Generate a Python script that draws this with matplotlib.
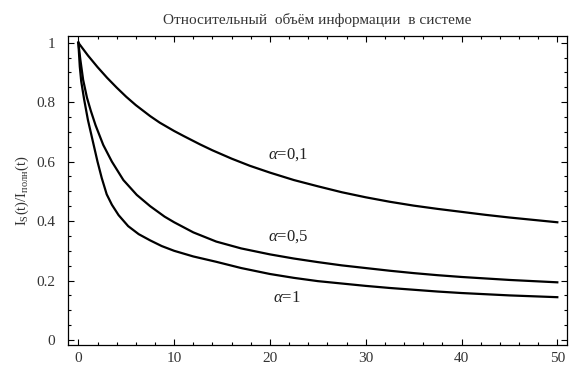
import matplotlib.pyplot as plt
from matplotlib.ticker import MultipleLocator

# ---- данные ----
t_01 = [0, 1, 2, 3, 4, 5, 6, 7.5, 8.5, 10, 11, 12.7, 14, 15, 16, 17.9, 20, 22.5,
        25, 27.5, 30, 32.5, 35, 37.5, 40, 42.5, 45, 47.5, 50]
I_01 = [1.0, 0.957, 0.918, 0.882, 0.849, 0.818, 0.79, 0.753, 0.731, 0.703, 0.686,
        0.658, 0.638, 0.624, 0.610, 0.586, 0.563, 0.538, 0.517, 0.497, 0.480,
        0.465, 0.452, 0.441, 0.431, 0.421, 0.412, 0.404, 0.396]

t_05 = [0, 0.2, 0.5, 0.9, 1.3, 1.8, 2.6, 3.5, 4.7, 6.1, 7.5, 9, 10, 12, 14.4, 17,
        20, 22.5, 25, 27.5, 30, 32.5, 35, 37.5, 40, 42.5, 45, 47.5, 50]
I_05 = [1.0, 0.945, 0.875, 0.815, 0.771, 0.722, 0.656, 0.60, 0.538, 0.488, 0.45,
        0.415, 0.396, 0.362, 0.331, 0.308, 0.288, 0.274, 0.262, 0.251, 0.242,
        0.233, 0.225, 0.218, 0.212, 0.207, 0.202, 0.198, 0.194]

t_1 = [0, 0.15, 0.3, 0.6, 1.0, 1.5, 2.0, 2.44, 2.96, 3.5, 4.2, 5.2, 6.3, 7.5, 8.7,
       10, 12, 14.4, 17, 20, 22.5, 25, 27.5, 30, 32.5, 35, 37.5, 40, 42.5, 45,
       47.5, 50]
I_1 = [1.0, 0.92, 0.87, 0.81, 0.74, 0.67, 0.60, 0.545, 0.49, 0.455, 0.42, 0.383,
       0.356, 0.335, 0.316, 0.30, 0.281, 0.263, 0.242, 0.222, 0.209, 0.198, 0.19,
       0.182, 0.175, 0.169, 0.163, 0.158, 0.154, 0.15, 0.147, 0.144]

labels = ['0,1', '0,5', '1']
label_pos = [(19.8, 0.622), (19.8, 0.346), (20.3, 0.141)]

plt.rcParams['font.family'] = ['Liberation Serif', 'DejaVu Serif']
plt.rcParams['mathtext.fontset'] = 'custom'
plt.rcParams['mathtext.rm'] = 'Liberation Serif'
plt.rcParams['mathtext.it'] = 'Liberation Serif:italic'

fig = plt.figure(figsize=(5.7, 3.77), dpi=100)
ax = fig.add_axes([0.1188, 0.0849, 0.8754, 0.8196])

for t, I in [(t_01, I_01), (t_05, I_05), (t_1, I_1)]:
    ax.plot(t, I, color='black', lw=1.6, solid_joinstyle='round')

for lab, (x, y) in zip(labels, label_pos):
    ax.text(x, y, r'$\mathit{\alpha}$=' + lab, fontsize=12, color='#222222',
            ha='left', va='center')

ax.set_xlim(-1.11, 50.98)
ax.set_ylim(-0.0168, 1.0225)
ax.xaxis.set_major_locator(MultipleLocator(10))
ax.xaxis.set_minor_locator(MultipleLocator(2))
ax.yaxis.set_major_locator(MultipleLocator(0.2))
ax.yaxis.set_minor_locator(MultipleLocator(0.05))
ax.set_yticks([0, 0.2, 0.4, 0.6, 0.8, 1.0])
ax.set_yticklabels(['0', '0.2', '0.4', '0.6', '0.8', '1'])

ax.tick_params(which='both', direction='in', top=True, right=True, width=0.8,
               labelsize=11, colors='black', labelcolor='#333333')
ax.tick_params(which='major', length=4)
ax.tick_params(which='minor', length=2)
ax.tick_params(axis='y', pad=9)
ax.tick_params(axis='x', pad=5)
for s in ax.spines.values():
    s.set_linewidth(0.9)

ax.set_title('Относительный  объём информации  в системе', fontsize=11,
             color='#333333', pad=9)
ax.set_ylabel(r'I$_\mathrm{S}$(t)/I$_\mathrm{полн}$(t)', fontsize=10.5,
              color='#333333', labelpad=4)

fig.savefig('out.png', dpi=100)
